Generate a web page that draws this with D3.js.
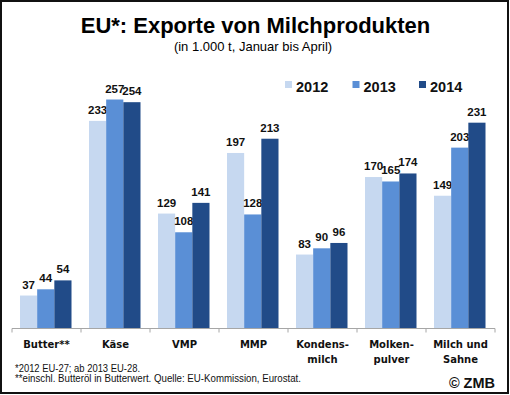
<!DOCTYPE html>
<html><head><meta charset="utf-8">
<script src="https://cdn.jsdelivr.net/npm/d3@7"></script>
<style>body{margin:0;background:#fff}svg{display:block}</style>
</head><body>
<svg id="c" width="510" height="395"></svg>
<script>
const categories = ["Butter**","Käse","VMP","MMP","Kondens-\nmilch","Molken-\npulver","Milch und\nSahne"];
const years = ["2012","2013","2014"];
const v2012 = [37,233,129,197,83,170,149];
const v2013 = [44,257,108,128,90,165,203];
const v2014 = [54,254,141,213,96,174,231];
const colors = ["#c6d8f0","#5a8fd6","#214b88"];

const svg = d3.select("#c");
svg.append("rect").attr("x",1).attr("y",1).attr("width",507).attr("height",392)
  .attr("fill","#fff").attr("stroke","#111").attr("stroke-width",2);

svg.append("text").attr("x",255.5).attr("y",33).attr("text-anchor","middle")
  .attr("font-family","Liberation Sans, Arial, sans-serif").attr("font-weight","bold")
  .attr("font-size",22).text("EU*: Exporte von Milchprodukten");
svg.append("text").attr("x",253).attr("y",51).attr("text-anchor","middle")
  .attr("font-family","Liberation Sans, Arial, sans-serif")
  .attr("font-size",13).text("(in 1.000 t, Januar bis April)");

const x0 = d3.scaleBand().domain(d3.range(categories.length)).range([12,495]).paddingInner(0).paddingOuter(0);
const x1 = d3.scaleBand().domain(years).range([8, x0.bandwidth()-9.5]).padding(0);
const y = d3.scaleLinear().domain([0,300]).range([328.5,61.2]);

const series = [v2012,v2013,v2014];
const g = svg.append("g");
years.forEach((yr,si)=>{
  const vals = series[si];
  g.selectAll(null).data(vals).join("rect")
    .attr("x",(d,i)=>x0(i)+x1(yr))
    .attr("y",d=>y(d))
    .attr("width",x1.bandwidth())
    .attr("height",d=>y(0)-y(d))
    .attr("fill",colors[si]);
  g.selectAll(null).data(vals).join("text")
    .attr("x",(d,i)=>x0(i)+x1(yr)+x1.bandwidth()/2)
    .attr("y",d=>y(d)-7)
    .attr("text-anchor","middle")
    .attr("font-family","Liberation Sans Narrow, Arial Narrow, Liberation Sans, sans-serif")
    .attr("font-weight","bold").attr("font-size",11.5).attr("fill","#111")
    .text(d=>d);
});

// axis
const ax = svg.append("g");
ax.append("line").attr("x1",12).attr("x2",495).attr("y1",328.5).attr("y2",328.5)
  .attr("stroke","#a6a6a6").attr("stroke-width",1);
d3.range(categories.length+1).forEach(i=>{
  const xx = i<categories.length ? x0(i) : 495;
  ax.append("line").attr("x1",xx).attr("x2",xx).attr("y1",328.5).attr("y2",332.5)
    .attr("stroke","#a6a6a6");
});
categories.forEach((c,i)=>{
  const lines = c.split("\n");
  const t = ax.append("text").attr("x",x0(i)+x0.bandwidth()/2).attr("y",348)
    .attr("text-anchor","middle").attr("font-family","DejaVu Sans, Verdana, sans-serif")
    .attr("font-weight","bold").attr("font-size",10).attr("fill","#111");
  lines.forEach((l,k)=>t.append("tspan").attr("x",x0(i)+x0.bandwidth()/2).attr("dy",k?14.5:0).text(l));
});

// legend
const lg = svg.append("g");
const lx = [285,352.5,419];
years.forEach((yr,i)=>{
  lg.append("rect").attr("x",lx[i]).attr("y",81).attr("width",7).attr("height",7).attr("fill",colors[i]);
  lg.append("text").attr("x",lx[i]+11).attr("y",91.5).attr("font-family","Liberation Sans, Arial, sans-serif")
    .attr("font-weight","bold").attr("font-size",14.5).attr("fill","#111").text(yr);
});

// footnotes
svg.append("text").attr("x",15).attr("y",371.5).attr("font-family","Liberation Sans, Arial, sans-serif")
  .attr("font-size",11).attr("fill","#111").attr("textLength",125).attr("lengthAdjust","spacingAndGlyphs")
  .text("*2012 EU-27; ab 2013 EU-28.");
svg.append("text").attr("x",15).attr("y",382).attr("font-family","Liberation Sans, Arial, sans-serif")
  .attr("font-size",11).attr("fill","#111").attr("textLength",286).attr("lengthAdjust","spacingAndGlyphs")
  .text("**einschl. Butteröl in Butterwert. Quelle: EU-Kommission, Eurostat.");
svg.append("text").attr("x",495).attr("y",387.5).attr("text-anchor","end").attr("font-family","Liberation Sans, Arial, sans-serif")
  .attr("font-weight","bold").attr("font-size",14.5).attr("fill","#111").text("© ZMB");
</script>
</body></html>
